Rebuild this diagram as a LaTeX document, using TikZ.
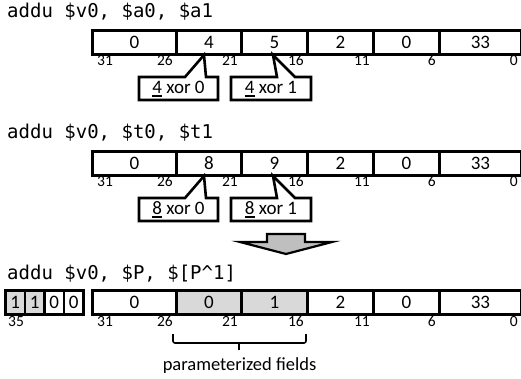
\documentclass[tikz,border=0pt]{standalone}
\usepackage{fontspec}
\setmainfont{Carlito}
\newfontfamily\codefont{DejaVu Sans Mono}
\newcommand\uln[1]{\setbox0\hbox{#1}\rlap{\rule[-3pt]{\wd0}{1.8pt}}\box0\relax}
\tikzset{
 fieldbox/.style={draw, line width=2.8pt, inner sep=0pt, minimum height=24pt, anchor=north west, font=\fontsize{19}{19}\selectfont},
 bitlbl/.style={inner sep=0pt, font=\fontsize{15.5}{15.5}\selectfont},
 codetitle/.style={inner sep=0pt, anchor=base west, font=\codefont\fontsize{19}{19}\selectfont},
 calloutline/.style={draw, fill=white, line width=2.6pt, line join=miter},
 callouttext/.style={inner sep=0pt, font=\fontsize{19}{19}\selectfont},
 bigarrow/.style={draw, fill=gray!50, line width=2.2pt, line join=miter},
 bracketline/.style={draw, line width=1.6pt, rounded corners=2pt},
 plain/.style={inner sep=0pt, font=\fontsize{18.5}{18.5}\selectfont}
}
\begin{document}
\begin{tikzpicture}[x=1pt,y=-1pt]
\useasboundingbox (0,0) rectangle (521,379);
% titles
\node[codetitle] (t1) at (7,18) {addu \$v0, \$a0, \$a1};
\node[codetitle] (t2) at (7,139) {addu \$v0, \$t0, \$t1};
\node[codetitle] (t3) at (7,279) {addu \$v0, \$P, \$[P\textasciicircum 1]};
% rows 1 and 2
\foreach \r/\dy/\b/\c in {1/0/4/5, 2/121/8/9} {
  \foreach \i/\xa/\xb/\t in {1/91/175/0, 2/175/240/\b, 3/240/306/\c, 4/306/372/2, 5/372/438/0, 6/438/520/33}
    \node[fieldbox, minimum width={(\xb-\xa)*1pt}] (f\r-\i) at (\xa,{29+\dy}) {\t};
  \node[bitlbl, anchor=base west] (l\r-31) at (97,{66+\dy}) {31};
  \foreach \x/\n in {175/26, 240/21, 306/16, 372/11, 438/6, 520/0}
    \node[bitlbl, anchor=base east] (l\r-\n) at ({\x-2},{66+\dy}) {\n};
  % callouts
  \draw[calloutline] (139,{77+\dy}) -- (185,{77+\dy}) -- (204,{55+\dy}) -- (206,{77+\dy}) -- (218,{77+\dy}) -- (218,{100+\dy}) -- (139,{100+\dy}) -- cycle;
  \node[callouttext] (ca\r) at (178.5,{89+\dy}) {\uln{\b} xor 0};
  \draw[calloutline] (231,{77+\dy}) -- (277,{77+\dy}) -- (273,{55+\dy}) -- (295,{77+\dy}) -- (311,{77+\dy}) -- (311,{100+\dy}) -- (231,{100+\dy}) -- cycle;
  \node[callouttext] (cb\r) at (271,{89+\dy}) {\uln{\b} xor 1};
}
% arrow
\draw[bigarrow] (267,234) -- (305,234) -- (305,242) -- (332,242) -- (286,254) -- (240,242) -- (267,242) -- cycle;
% row 3
\foreach \i/\xa/\xb/\t/\s in {1/91/175/0/white, 2/175/240/0/gray!30, 3/240/306/1/gray!30, 4/306/372/2/white, 5/372/438/0/white, 6/438/520/33/white}
  \node[fieldbox, fill=\s, minimum width={(\xb-\xa)*1pt}] (f3-\i) at (\xa,289) {\t};
\foreach \i/\xa/\t/\s in {1/4/1/gray!30, 2/23.5/1/gray!30, 3/43/0/white, 4/62.5/0/white}
  \node[fieldbox, fill=\s, minimum width=19.5pt] (p\i) at (\xa,289) {\t};
\node[bitlbl, anchor=base west] (l3-35) at (8,326) {35};
\node[bitlbl, anchor=base west] (l3-31) at (97,326) {31};
\foreach \x/\n in {175/26, 240/21, 306/16, 372/11, 438/6, 520/0}
  \node[bitlbl, anchor=base east] (l3-\n) at ({\x-2},326) {\n};
% bracket
\draw[bracketline] (173,334) -- (173,343) -- (306,343) -- (306,334);
\draw[line width=1.6pt] (239,343) -- (239,350);
\node[plain] (pf) at (239.5,366) {parameterized fields};
\end{tikzpicture}
\end{document}
